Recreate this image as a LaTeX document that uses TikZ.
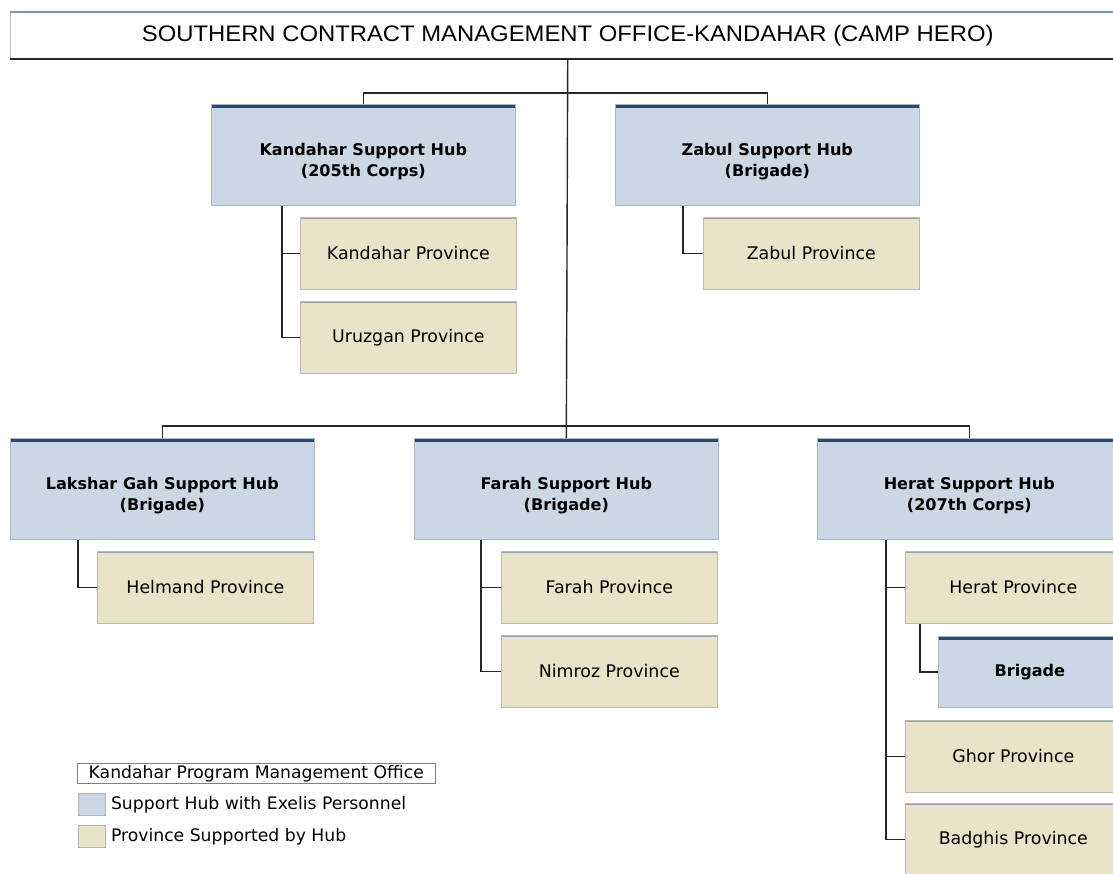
\documentclass[tikz,border=0pt]{standalone}
\usepackage{fontspec}
\setmainfont{DejaVu Sans}
\newfontfamily\titlefont{Liberation Sans}
\usepackage{tikz}
\usetikzlibrary{positioning}

\definecolor{hubfill}{RGB}{203,215,228}
\definecolor{hubtop}{RGB}{44,74,108}
\definecolor{hubline}{RGB}{168,182,196}
\definecolor{provfill}{RGB}{233,227,202}
\definecolor{provline}{RGB}{188,186,170}
\definecolor{provtop}{RGB}{150,164,178}
\definecolor{linkgray}{RGB}{38,38,38}
\definecolor{titletop}{RGB}{125,152,180}

\begin{document}
\begin{tikzpicture}[x=0.02cm,y=-0.02cm,
  hub/.style={draw=hubline,fill=hubfill,anchor=north west,inner sep=0pt,
    minimum width=6.08cm,minimum height=2.02cm,
    font=\fontsize{9.15}{12}\selectfont\bfseries,
    path picture={\fill[hubtop] (path picture bounding box.north west) rectangle ([yshift=-0.07cm]path picture bounding box.north east);}},
  hubtext/.style={align=center,inner sep=0pt,yshift=-0.14cm,font=\fontsize{9.15}{12}\selectfont\bfseries},
  prov/.style={draw=provline,fill=provfill,anchor=north west,inner sep=0pt,
    minimum width=4.32cm,minimum height=1.44cm,
    font=\fontsize{9.9}{12}\selectfont,
    path picture={\fill[provtop] (path picture bounding box.north west) rectangle ([yshift=-0.04cm]path picture bounding box.north east);}},
  link/.style={draw=linkgray,line width=0.8pt},
  swatch/.style={draw=gray!60,anchor=north west,inner sep=0pt,minimum width=0.54cm,minimum height=0.44cm},
  legtext/.style={inner sep=0pt,font=\fontsize{9.8}{12}\selectfont}]
\useasboundingbox (0,0) rectangle (1113,873);

% office on top
\node[fill=white,draw=gray!50,anchor=north west,inner sep=0pt,minimum width=22.3cm,minimum height=0.92cm,
  font=\titlefont\fontsize{12.8}{14}\selectfont] (smo) at (10,12)
  {\scalebox{1.06}[1]{SOUTHERN CONTRACT MANAGEMENT OFFICE-KANDAHAR (CAMP HERO)}};
\draw[titletop,line width=1.6pt] (smo.north west) -- (smo.north east);
\draw[linkgray,line width=1pt] (smo.south west) -- (smo.south east);

% support hubs
\node[hub,label={[hubtext]center:Kandahar Support Hub\\(205th Corps)}] (khub) at (211,104) {};
\node[hub,label={[hubtext]center:Zabul Support Hub\\(Brigade)}] (zhub) at (615,104) {};
\node[hub,label={[hubtext]center:Lakshar Gah Support Hub\\(Brigade)}] (lhub) at (10,438) {};
\node[hub,label={[hubtext]center:Farah Support Hub\\(Brigade)}] (fhub) at (414,438) {};
\node[hub,label={[hubtext]center:Herat Support Hub\\(207th Corps)}] (hhub) at (817,438) {};

% provinces
\node[prov] (kprov) at (300,217) {Kandahar Province};
\node[prov] (uprov) at (300,301) {Uruzgan Province};
\node[prov] (zprov) at (703,217) {Zabul Province};
\node[prov] (hlprov) at (97,551) {Helmand Province};
\node[prov] (fprov) at (501,551) {Farah Province};
\node[prov] (nprov) at (501,635) {Nimroz Province};
\node[prov] (hrprov) at (905,551) {Herat Province};
\node[hub,minimum width=3.66cm,minimum height=1.42cm] (brig) at (938,636) {Brigade};
\node[prov] (gprov) at (905,720) {Ghor Province};
\node[prov] (bprov) at (905,803) {Badghis Province};

% links
\draw[link] (smo.south) -- (fhub.north);
\draw[link] (khub.north) -- ++(0,-11) -| (zhub.north);
\draw[link] (lhub.north) -- ++(0,-12) -| (hhub.north);
\draw[link] ([xshift=1.42cm]khub.south west) |- (uprov.west);
\draw[link] ([xshift=1.42cm]khub.south west) |- (kprov.west);
\draw[link] ([xshift=1.36cm]zhub.south west) |- (zprov.west);
\draw[link] ([xshift=1.36cm]lhub.south west) |- (hlprov.west);
\draw[link] ([xshift=1.34cm]fhub.south west) |- (nprov.west);
\draw[link] ([xshift=1.34cm]fhub.south west) |- (fprov.west);
\draw[link] ([xshift=1.38cm]hhub.south west) |- (bprov.west);
\draw[link] ([xshift=1.38cm]hhub.south west) |- (gprov.west);
\draw[link] ([xshift=1.38cm]hhub.south west) |- (hrprov.west);
\draw[link] ([xshift=0.3cm]hrprov.south west) |- (brig.west);

% legend
\node[draw=gray,anchor=north west,inner sep=0pt,minimum width=7.16cm,minimum height=0.4cm,
  font=\fontsize{9.8}{12}\selectfont] (pmo) at (77,763) {Kandahar Program Management Office};
\node[swatch,fill=hubfill] (sw1) at (78,793) {};
\node[legtext,right=0.1cm of sw1] (lg1) {Support Hub with Exelis Personnel};
\node[swatch,fill=provfill] (sw2) at (78,825) {};
\node[legtext,right=0.1cm of sw2] (lg2) {Province Supported by Hub};
\end{tikzpicture}
\end{document}
